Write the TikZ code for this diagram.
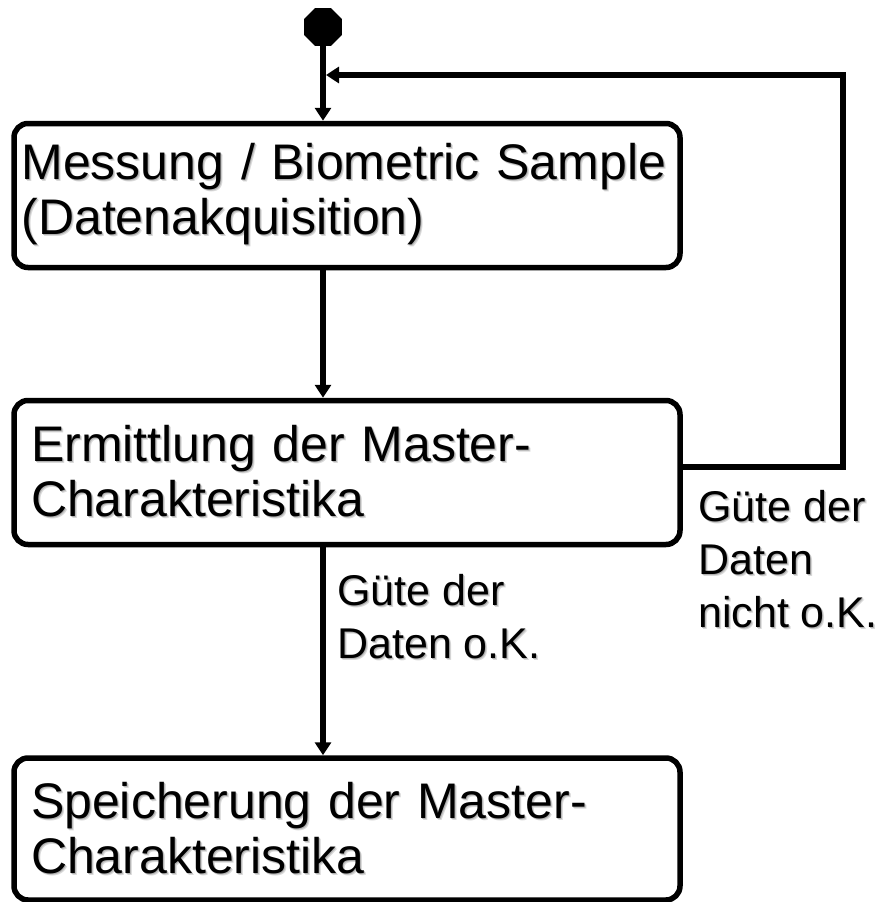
\documentclass[tikz,border=0pt]{standalone}
\usepackage{fontspec}
\setmainfont{Liberation Sans}
\usetikzlibrary{shapes.geometric,arrows.meta}
\newcommand\shd[1]{\makebox[0pt][l]{\kern2pt\raisebox{-2pt}{\textcolor{black!15}{#1}}}\makebox[0pt][l]{\kern1pt\raisebox{-1pt}{\textcolor{black!30}{#1}}}#1}
\begin{document}
\begin{tikzpicture}[x=1pt,y=-1pt,
  every node/.style={font=\fontsize{50}{55}\selectfont},
  statebox/.style={draw, line width=5.5pt, rounded corners=14pt, minimum width=666pt,
     text width=666pt-2*#1, inner xsep=#1, align=left, inner ysep=0pt},
  statebox/.default=17pt,
  flow/.style={line width=5.5pt, -{Triangle[width=16pt,length=13pt]}},
  lbl/.style={font=\fontsize{43}{53}\selectfont, align=left, anchor=north west, inner sep=0pt}]
\useasboundingbox (0,0) rectangle (888,902);
\node[regular polygon, regular polygon sides=8, fill=black, draw=none, minimum size=41pt, inner sep=0pt] (init) at (323,27) {};
\node[statebox=7.5pt, minimum height=144pt] (b1) at (347,195.5) {\shd{Messung / Biometric Sample}\\\shd{(Datenakquisition)}};
\node[statebox, minimum height=144pt] (b2) at (347,472.5) {\shd{Ermittlung der Master-}\\\shd{Charakteristika}};
\node[statebox, minimum height=142pt] (b3) at (347,829) {\shd{Speicherung der Master-}\\\shd{Charakteristika}};
\coordinate (j) at (326,75);
\coordinate (c1) at (843,467);
\coordinate (c2) at (843,75);
\draw[flow] (init) -- (b1.north -| init);
\draw[flow] (b1.south -| init) -- (b2.north -| init);
\draw[flow] (b2.south -| init) -- (b3.north -| init);
\draw[flow] (b2.east |- c1) -- (c1) -- (c2) -- (j);
\node[lbl] (l1) at (337,574) {\shd{Güte der}\\\shd{Daten o.K.}};
\node[lbl] (l2) at (698,490) {\shd{Güte der}\\\shd{Daten}\\\shd{nicht o.K.}};
\end{tikzpicture}
\end{document}
